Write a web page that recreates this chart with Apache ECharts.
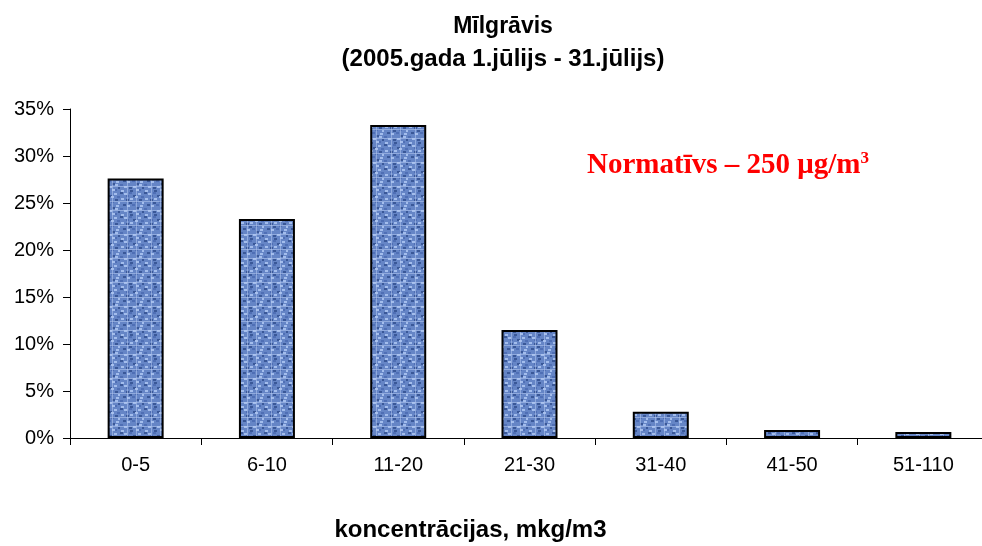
<!DOCTYPE html>
<html><head><meta charset="utf-8">
<script src="https://cdn.jsdelivr.net/npm/echarts@6/dist/echarts.min.js"></script>
<style>html,body{margin:0;padding:0;background:#fff}#c{width:982px;height:546px}</style>
</head><body><div id="c"></div>
<script>
const categories = ['0-5','6-10','11-20','21-30','31-40','41-50','51-110'];
const values = [27.6, 23.3, 33.3, 11.5, 2.8, 0.85, 0.65];
const yTicks = [0,5,10,15,20,25,30,35];

function makePattern(){
  const c = document.createElement('canvas');
  c.width = 24; c.height = 24;
  const g = c.getContext('2d');
  g.fillStyle = '#6585c6'; g.fillRect(0,0,24,24);
  const dark = '#3a5898', light = '#a3bdec', mid = '#4f6fb5';
  const cells = [
    [0,0,dark],[4,1,light],[9,0,mid],[13,3,dark],[18,1,light],[21,4,mid],
    [1,6,light],[6,7,dark],[10,6,light],[15,9,mid],[19,7,dark],[22,10,light],
    [3,12,dark],[7,13,light],[12,12,mid],[16,15,dark],[20,13,light],[0,16,mid],
    [4,18,light],[9,19,dark],[13,18,light],[18,21,mid],[22,19,dark],[1,22,light],
    [10,22,dark],[16,21,light],[6,3,mid],[19,16,light],[9,10,dark],[15,4,light]
  ];
  cells.forEach(([x,y,col])=>{g.fillStyle=col;g.fillRect(x,y,3,2);});
  g.fillStyle='rgba(180,200,240,0.55)';
  g.fillRect(0,9,24,1); g.fillRect(7,0,1,24); g.fillRect(16,0,1,24); g.fillRect(0,18,24,1);
  return c;
}

const chart = echarts.init(document.getElementById('c'), null, {renderer:'canvas'});
chart.setOption({
  animation:false,
  backgroundColor:'#fff',
  title:{
    text:'{a|Mīlgrāvis}\n{b|(2005.gada 1.jūlijs - 31.jūlijs)}',
    left:498, top:6, textAlign:'center',
    textStyle:{
      rich:{
        a:{fontFamily:'Liberation Sans, Arial',fontWeight:'bold',fontSize:23,lineHeight:32,color:'#000',align:'center'},
        b:{fontFamily:'Liberation Sans, Arial',fontWeight:'bold',fontSize:24,lineHeight:32,color:'#000',align:'center'}
      }
    }
  },
  grid:{left:70, width:919, top:109, bottom:108, containLabel:false, outerBoundsMode:'none'},
  xAxis:{
    type:'category', data:categories,
    axisLine:{lineStyle:{color:'#000',width:1}},
    axisTick:{show:true,length:7,lineStyle:{color:'#000'}},
    axisLabel:{fontFamily:'Liberation Sans, Arial',fontSize:20,color:'#000',margin:17},
    name:'koncentrācijas, mkg/m3', nameLocation:'middle', nameGap:80,
    nameTextStyle:{fontFamily:'Liberation Sans, Arial',fontWeight:'bold',fontSize:24,color:'#000',padding:[0,118,0,0]}
  },
  yAxis:{
    type:'value', min:yTicks[0], max:yTicks[yTicks.length-1], interval:5,
    axisLine:{show:true,lineStyle:{color:'#000',width:1}},
    axisTick:{show:true,length:7,lineStyle:{color:'#000'}},
    splitLine:{show:false},
    axisLabel:{fontFamily:'Liberation Sans, Arial',fontSize:20,color:'#000',margin:16,formatter:v=>v+'%'}
  },
  graphic:[{
    type:'text', left:587, top:150,
    style:{
      text:'{a|Normatīvs – 250 μg/m}{s|3}',
      rich:{
        a:{fontFamily:'Liberation Serif, Times New Roman',fontWeight:'bold',fontSize:29,fill:'#ff0000',color:'#ff0000'},
        s:{fontFamily:'Liberation Serif, Times New Roman',fontWeight:'bold',fontSize:17,fill:'#ff0000',color:'#ff0000',verticalAlign:'top',padding:[0,0,14,0]}
      }
    }
  }],
  series:[{
    type:'bar', data:values, barWidth:56,
    itemStyle:{color:{image:makePattern(),repeat:'repeat'},borderColor:'#000',borderWidth:2}
  }]
});
</script></body></html>
